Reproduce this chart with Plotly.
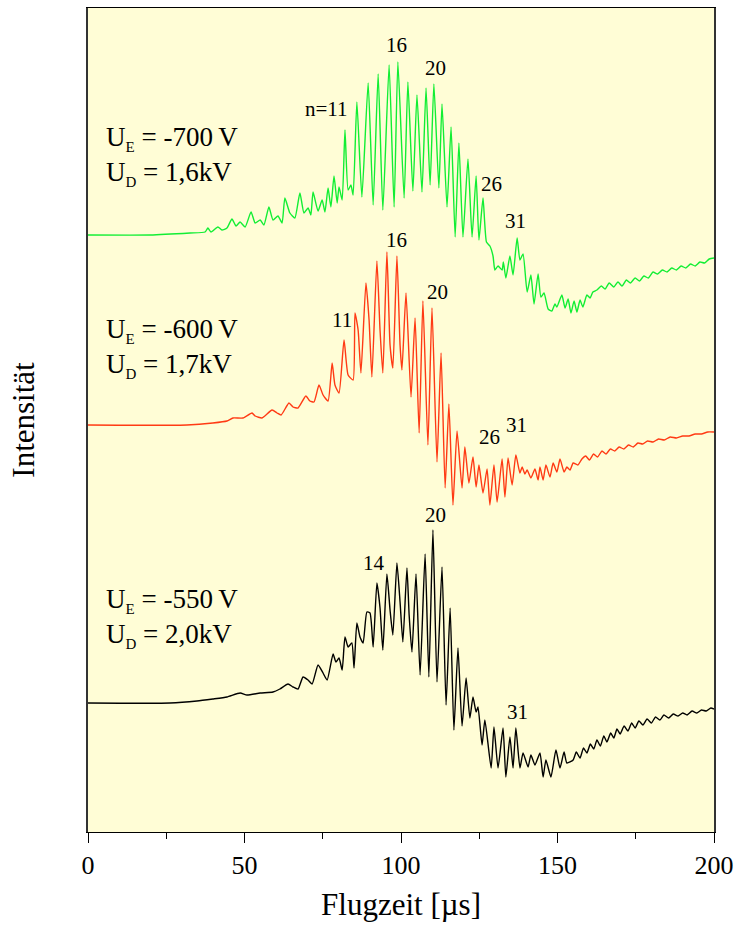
import plotly.graph_objects as go

# Flight-time spectra (µs) and intensity (arbitrary units, traces stacked)
green_t = [0, 19.8, 32.6, 37.4, 38.3, 39.3, 41.5, 42.8, 44.4, 46.0, 47.3, 48.6, 50.2, 52.1, 53.4,
           55.0, 56.2, 57.8, 59.1, 60.7, 62.0, 62.9, 64.5, 66.1, 67.7, 69.0, 70.3, 71.2, 71.9, 73.5,
           74.8, 75.7, 76.7, 77.6, 78.6, 79.6, 80.2, 81.2, 82.1, 83.1, 84.0, 84.7, 85.9, 87.5, 89.5,
           91.1, 92.7, 94.2, 96.2, 97.8, 99.0, 101.0, 102.2, 103.8, 105.1, 106.7, 108.0, 109.3, 110.5,
           112.1, 113.1, 114.7, 116.0, 117.3, 118.5, 119.8, 121.4, 122.7, 124.0, 124.9, 126.2, 127.3,
           128.4, 129.4, 130.0, 131.0, 132.3, 132.7, 133.5, 134.8, 135.8, 137.1, 138.0, 139.0, 140.3,
           141.5, 142.5, 143.8, 144.7, 145.7, 147.0, 148.2, 149.2, 149.8, 151.4, 152.4, 153.4, 154.3,
           155.3, 156.2, 157.2, 158.1, 159.4, 160.4, 161.3, 162.6, 164.0, 165.2, 166.5, 168.0, 169.3,
           170.6, 172.0, 173.3, 174.8, 176.2, 177.6, 179.0, 180.5, 182.0, 183.5, 185.0, 186.5, 188.0,
           189.5, 191.0, 192.5, 194.0, 195.5, 197.0, 198.5, 200.0]
green_i = [597, 597, 599, 600, 604, 600, 605, 602, 604, 613, 606, 610, 605, 620, 609,
           612, 607, 625, 612, 616, 609, 634, 619, 614, 639, 619, 624, 617, 640, 621,
           632, 620, 644, 625, 656, 629, 645, 632, 702, 642, 647, 637, 730, 635, 749,
           627, 758, 622, 767, 625, 770, 634, 750, 641, 737, 640, 744, 647, 748,
           644, 728, 625, 705, 595, 689, 595, 673, 595, 656, 592, 634, 590,
           586, 576, 562, 566, 562, 570, 554, 576, 557, 594, 572, 578, 540,
           557, 528, 558, 535, 539, 523, 521, 528, 525, 537, 524, 533, 519,
           531, 520, 532, 525, 537, 534, 540, 542, 546, 543, 549, 545, 550,
           546, 552, 549, 554, 551, 556, 554, 560, 558, 562, 560, 564, 562,
           566, 564, 568, 566, 570, 569, 573, 574]

red_t = [0, 31.6, 39.9, 44.4, 46.3, 49.5, 52.4, 53.4, 55.6, 58.8, 60.4, 61.7, 64.2, 65.5, 67.1,
         69.6, 70.9, 72.2, 73.8, 75.1, 76.7, 78.0, 78.9, 80.2, 81.8, 83.1, 84.7, 85.3, 86.3, 87.2,
         88.8, 89.8, 90.7, 92.3, 93.3, 94.2, 95.5, 96.5, 97.4, 98.7, 99.7, 100.3, 101.6, 103.2,
         104.5, 105.8, 107.0, 108.6, 109.9, 111.5, 112.8, 114.1, 115.3, 116.6, 117.9, 119.5, 120.4,
         121.7, 123.0, 124.0, 124.9, 126.2, 127.5, 128.4, 129.7, 130.7, 132.3, 133.2, 134.2, 135.5,
         136.7, 138.0, 138.7, 139.6, 140.3, 141.5, 142.8, 143.8, 144.4, 145.4, 146.3, 147.6, 148.6,
         149.8, 150.8, 152.1, 153.0, 154.0, 155.0, 156.5, 157.8, 159.0, 160.2, 161.5, 162.8, 164.2,
         165.5, 166.9, 168.3, 169.7, 171.2, 172.7, 174.2, 175.7, 177.2, 178.8, 180.5, 182.3, 184.1,
         186.0, 188.0, 190.0, 192.0, 194.0, 196.0, 198.0, 200.0]
red_i = [407, 407, 409, 411, 414, 414, 419, 416, 414, 422, 419, 417, 429, 425, 424,
         436, 431, 430, 447, 437, 431, 469, 447, 439, 492, 457, 452, 519, 502, 459,
         549, 512, 455, 571, 502, 459, 580, 487, 464, 576, 487, 462, 539, 435,
         514, 399, 531, 387, 524, 370, 479, 344, 428, 327, 401, 344, 385,
         349, 375, 345, 367, 339, 363, 327, 367, 330, 373, 335, 374, 347,
         377, 359, 365, 358, 362, 354, 363, 352, 365, 352, 367, 355, 369,
         360, 373, 360, 365, 362, 369, 367, 373, 376, 372, 378, 375, 381,
         378, 383, 381, 385, 383, 387, 385, 389, 388, 391, 390, 393, 392,
         395, 394, 396, 396, 398, 398, 400, 400]

black_t = [0, 26.2, 34.8, 39.9, 44.4, 48.6, 50.8, 55.0, 59.1, 61.3, 63.9, 65.5, 67.1, 68.7, 70.3,
           71.6, 73.5, 75.1, 76.4, 78.3, 79.2, 80.2, 81.2, 82.1, 83.1, 84.3, 85.0, 85.9, 86.9, 87.9,
           89.1, 90.1, 91.1, 92.3, 93.3, 94.2, 95.5, 96.5, 97.4, 98.7, 99.7, 100.6, 101.9, 102.6,
           103.5, 104.8, 106.1, 107.7, 108.9, 110.2, 111.5, 113.1, 114.4, 115.7, 116.9, 118.2, 119.5,
           120.8, 122.0, 123.0, 124.0, 124.6, 125.9, 126.8, 128.8, 129.7, 131.0, 132.6, 133.5, 134.8,
           135.8, 136.7, 138.0, 139.0, 140.6, 141.5, 142.8, 144.4, 145.4, 146.3, 147.9, 149.5, 150.8,
           152.1, 153.0, 155.0, 156.0, 157.2, 158.3, 159.4, 160.5, 161.6, 162.6, 163.7, 164.8, 165.8,
           167.0, 168.0, 169.0, 170.0, 171.3, 172.5, 173.7, 174.8, 176.0, 177.3, 178.6, 180.0, 181.3,
           182.7, 184.0, 185.5, 187.0, 188.5, 190.0, 191.4, 193.0, 194.5, 196.0, 197.5, 199.0, 200.0]
black_i = [129, 129, 131, 133, 135, 139, 137, 139, 140, 143, 148, 145, 143, 155, 152,
           148, 167, 159, 152, 178, 170, 174, 162, 195, 185, 189, 164, 209, 195, 189,
           220, 219, 185, 249, 224, 182, 258, 222, 197, 269, 230, 190, 264, 217,
           180, 258, 157, 278, 155, 302, 150, 265, 127, 224, 102, 184, 106,
           154, 114, 135, 120, 125, 87, 112, 64, 105, 64, 104, 55, 95,
           64, 104, 64, 79, 65, 77, 67, 79, 55, 72, 55, 82, 64,
           80, 69, 72, 80, 74, 84, 79, 88, 83, 92, 86, 96, 90,
           99, 94, 103, 98, 106, 101, 109, 104, 111, 107, 113, 109, 115,
           112, 117, 114, 118, 116, 119, 117, 121, 119, 122, 121, 124, 123]

series = [
    (green_t, green_i, "#11EE33"),
    (red_t, red_i, "#FF3A14"),
    (black_t, black_i, "#000000"),
]

# Peak order numbers n: (text, t, intensity)
peak_labels = [
    ("n=11", 76.2, 723), ("16", 98.7, 787), ("20", 110.9, 764), ("26", 128.8, 648), ("31", 136.7, 611),
    ("11", 81.2, 512), ("16", 98.7, 592), ("20", 111.5, 540), ("26", 128.4, 395), ("31", 136.9, 407),
    ("14", 91.4, 269), ("20", 110.9, 317), ("31", 137.1, 120),
]

# Voltage settings per spectrum: (U_E, U_D, intensity of first line, second line)
voltages = [
    ("-700", "1,6", 694, 659),
    ("-600", "1,7", 502, 467),
    ("-550", "2,0", 232, 197),
]

FONT = "Liberation Serif"
SUB = "<sub><span style='font-size:15px'>{}</span></sub>"

fig = go.Figure()
for t, inten, col in series:
    fig.add_trace(go.Scatter(x=t, y=inten, mode="lines",
                             line=dict(color=col, width=1.4, shape="spline", smoothing=0.5),
                             showlegend=False, hoverinfo="skip"))

annotations = []
for txt, t, val in peak_labels:
    annotations.append(dict(x=t, y=val, xref="x", yref="y", text=txt, showarrow=False,
                            font=dict(family=FONT, size=21, color="black"),
                            xanchor="center", yanchor="middle"))
for ue, ud, y1, y2 in voltages:
    annotations.append(dict(x=0.025, y=y1, xref="paper", yref="y",
                            text="U" + SUB.format("E") + f" = {ue}\u2009V", showarrow=False,
                            font=dict(family=FONT, size=27, color="black"),
                            xanchor="left", yanchor="middle"))
    annotations.append(dict(x=0.025, y=y2, xref="paper", yref="y",
                            text="U" + SUB.format("D") + f" = {ud}kV", showarrow=False,
                            font=dict(family=FONT, size=27, color="black"),
                            xanchor="left", yanchor="middle"))

fig.update_layout(
    width=739, height=925,
    margin=dict(l=88, r=25, t=8, b=93),
    paper_bgcolor="white",
    plot_bgcolor="#FFFDD6",
    annotations=annotations,
    font=dict(family=FONT, color="black"),
)
fig.update_xaxes(
    range=[0, 200], tickvals=[0, 50, 100, 150, 200], automargin=False,
    ticks="outside", ticklen=10, tickwidth=1, tickcolor="black",
    minor=dict(ticks="outside", ticklen=6, tickwidth=1, tickcolor="black",
               tickvals=[25, 75, 125, 175], showgrid=False),
    showline=True, linecolor="black", linewidth=1, mirror=True,
    showgrid=False, zeroline=False,
    tickfont=dict(family=FONT, size=26, color="black"),
    title=dict(text="Flugzeit [µs]", font=dict(family=FONT, size=31, color="black"), standoff=14),
)
fig.update_yaxes(
    range=[0, 824], showticklabels=False, ticks="", automargin=False,
    showline=True, linecolor="#333333", linewidth=1.5, mirror=True,
    showgrid=False, zeroline=False,
    title=dict(text="Intensität", font=dict(family=FONT, size=31, color="black"), standoff=42),
)

fig.write_html("out.html")
